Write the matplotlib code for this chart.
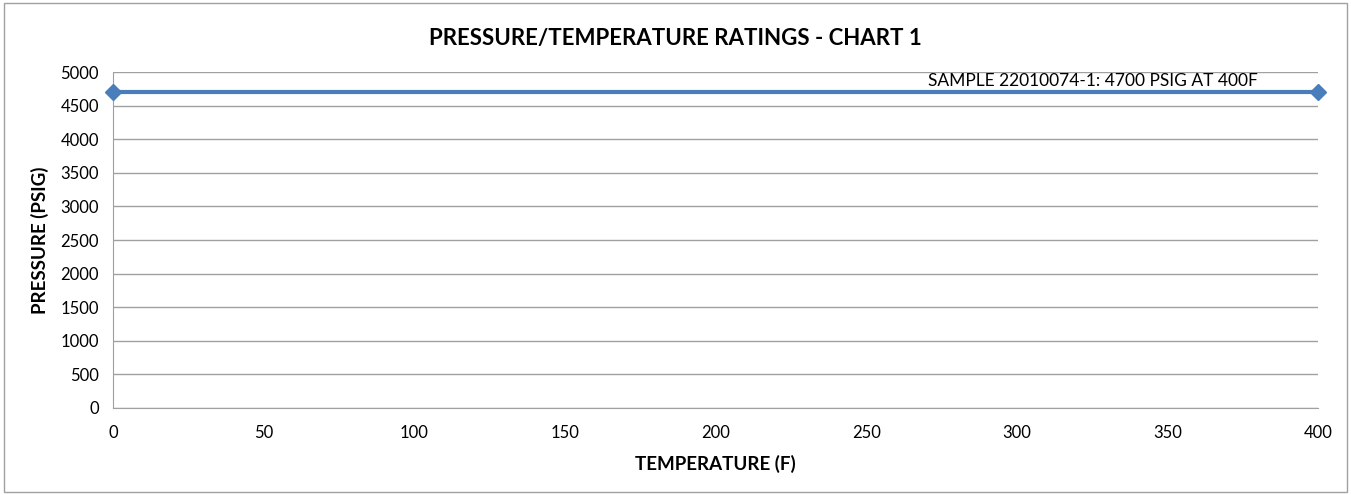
import matplotlib.pyplot as plt
from matplotlib.patches import Rectangle

temps = [0, 400]
pressures = [4700, 4700]
series_label = "SAMPLE 22010074-1: 4700 PSIG AT 400F"
x_ticks = [0, 50, 100, 150, 200, 250, 300, 350, 400]
y_ticks = [0, 500, 1000, 1500, 2000, 2500, 3000, 3500, 4000, 4500, 5000]

plt.rcParams['font.family'] = ['Lato', 'DejaVu Sans']

fig = plt.figure(figsize=(13.51, 4.95), dpi=100)
ax = fig.add_axes([0.0836, 0.1758, 0.892, 0.6787])

ax.plot(temps, pressures, color='#4a7ebb', lw=3, marker='D', ms=8, clip_on=False, zorder=3)
ax.text(380, 4700 + 40, series_label, ha='right', va='bottom', fontsize=12.5)

ax.set_xlim(0, 400)
ax.set_ylim(0, 5000)
ax.set_xticks(x_ticks)
ax.set_yticks(y_ticks)
ax.grid(axis='y', color='#a0a0a0', lw=1)
ax.set_axisbelow(True)
for s in ['top', 'right']:
    ax.spines[s].set_visible(False)
for s in ['left', 'bottom']:
    ax.spines[s].set_color('#a0a0a0')
ax.tick_params(length=0, labelsize=12, pad=10)
ax.tick_params(axis='x', pad=12)

ax.set_xlabel('TEMPERATURE (F)', fontsize=13.5, fontweight='bold', labelpad=10)
ax.set_ylabel('PRESSURE (PSIG)', fontsize=13.5, fontweight='bold', labelpad=8)
fig.suptitle('PRESSURE/TEMPERATURE RATINGS - CHART 1', fontsize=16, fontweight='bold', y=0.943)

fig.patches.append(Rectangle((0.003, 0.006), 0.994, 0.988, transform=fig.transFigure,
                             fill=False, edgecolor='#a0a0a0', lw=1))

fig.savefig('out.png', dpi=100)
